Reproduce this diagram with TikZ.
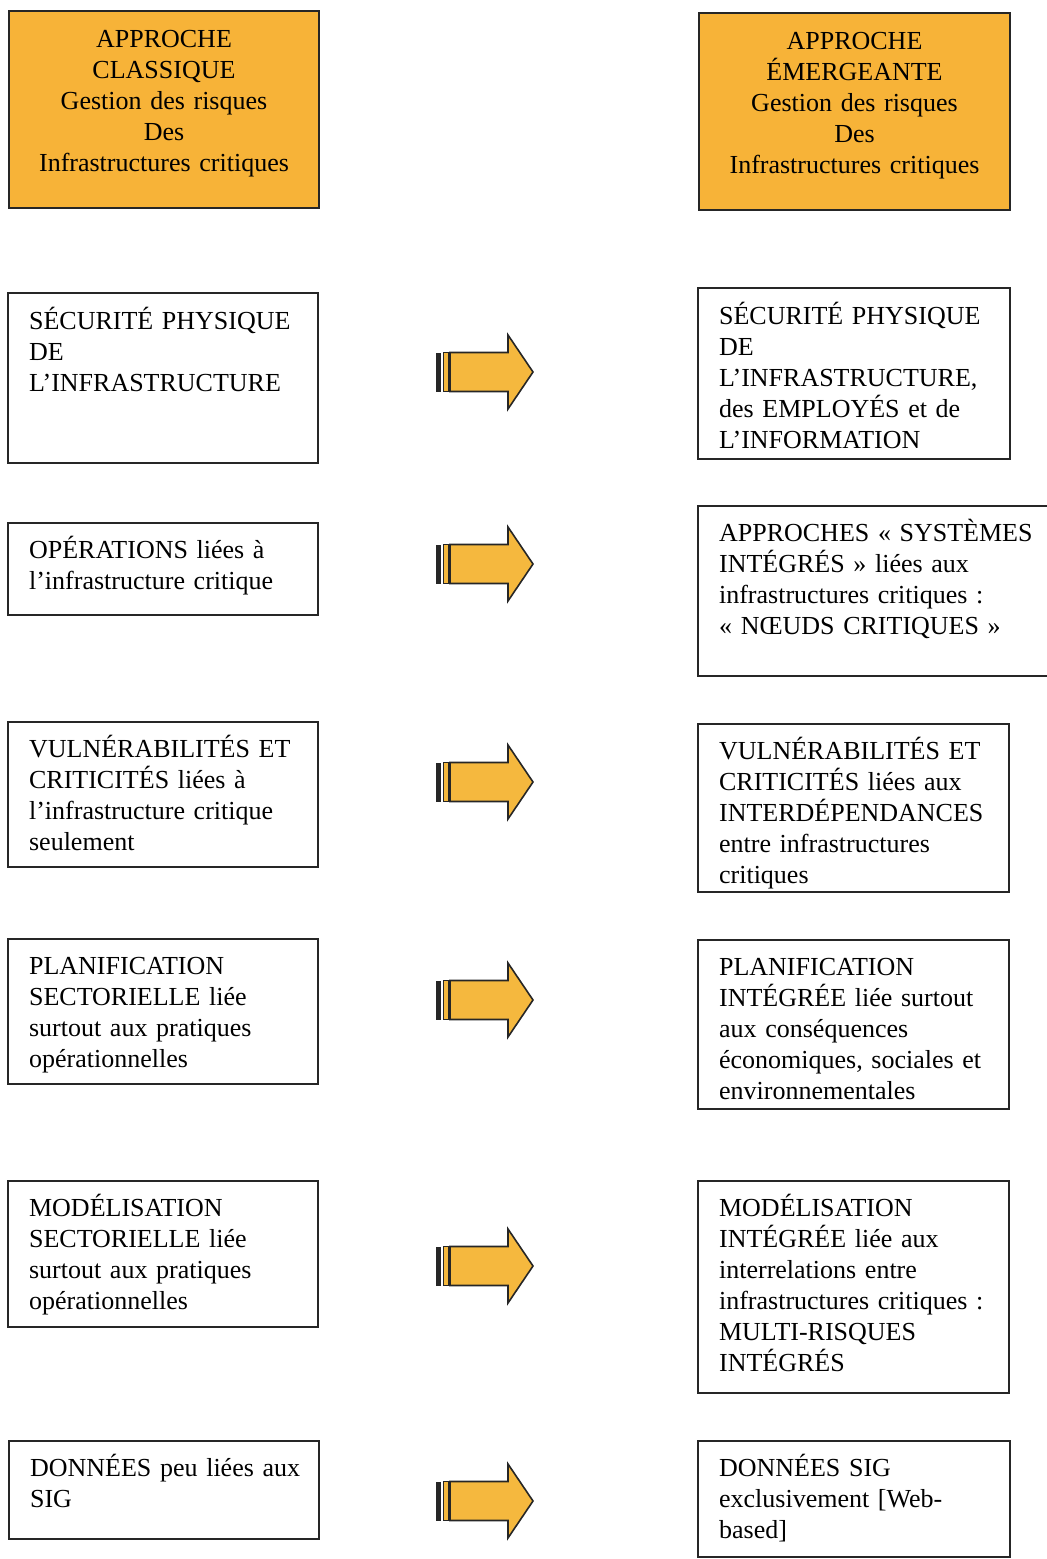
\documentclass[tikz,border=0pt]{standalone}
\usepackage{fontspec}
\setmainfont{Liberation Serif}
\usetikzlibrary{calc}

\definecolor{orangeapproche}{RGB}{247,179,56}
\definecolor{orangefleche}{RGB}{245,184,62}

\begin{document}
\begin{tikzpicture} [x=1pt, y=-1pt,
				entete/.style={
				% The shape:
				rectangle,
				% The border:
      				line width=2.2pt,
     				draw=black!85,
      				% The filling:
				fill=orangeapproche,
				inner sep=0pt
    				},
				cadre/.style={
				% The shape:
				rectangle,
				% The border:
      				line width=2.2pt,
     				draw=black!85,
      				% The filling:
				fill=white,
				inner sep=0pt
    				},
				texte/.style={
				% The placing:
				anchor=base west,
				inner sep=0pt,
				% The text:
				text width=340pt,
				align=left,
				font=\fontsize{26}{31}\selectfont
    				},
				titre/.style={
				% The placing:
				anchor=base,
				inner sep=0pt,
				% The text:
				text width=300pt,
				align=center,
				font=\fontsize{26}{31}\selectfont
    				},
				fleche/.style={
				line width=1.6pt,
				draw=black!85,
				fill=orangefleche,
				line join=miter
    				},
				]
    \useasboundingbox (0,0) rectangle (1047,1559);
    \fill[white] (0,0) rectangle (1047,1559);

    % headers
    \node [entete, minimum width=310pt, minimum height=197pt] (classique) at (164,109.5) {};
    \node [titre] (classique-t) at ($(classique.north)+(0,38)$)
        {APPROCHE\\ CLASSIQUE\\ Gestion des risques\\ Des\\ Infrastructures critiques};
    \node [entete, minimum width=311pt, minimum height=197pt] (emergeante) at (854.5,111.5) {};
    \node [titre] (emergeante-t) at ($(emergeante.north)+(0,38)$)
        {APPROCHE\\ ÉMERGEANTE\\ Gestion des risques\\ Des\\ Infrastructures critiques};

    % left column
    \node [cadre, minimum width=310pt, minimum height=170pt] (g1) at (163,378) {};
    \node [texte] (g1-t) at ($(g1.north west)+(22,38)$)
        {SÉCURITÉ PHYSIQUE\\ DE\\ L’INFRASTRUCTURE};
    \node [cadre, minimum width=310pt, minimum height=92pt] (g2) at (163,569) {};
    \node [texte] (g2-t) at ($(g2.north west)+(22,37)$)
        {OPÉRATIONS liées à\\ l’infrastructure critique};
    \node [cadre, minimum width=310pt, minimum height=145pt] (g3) at (163,794.5) {};
    \node [texte] (g3-t) at ($(g3.north west)+(22,37)$)
        {VULNÉRABILITÉS ET\\ CRITICITÉS liées à\\ l’infrastructure critique\\ seulement};
    \node [cadre, minimum width=310pt, minimum height=145pt] (g4) at (163,1011.5) {};
    \node [texte] (g4-t) at ($(g4.north west)+(22,37)$)
        {PLANIFICATION\\ SECTORIELLE liée\\ surtout aux pratiques\\ opérationnelles};
    \node [cadre, minimum width=310pt, minimum height=146pt] (g5) at (163,1254) {};
    \node [texte] (g5-t) at ($(g5.north west)+(22,37)$)
        {MODÉLISATION\\ SECTORIELLE liée\\ surtout aux pratiques\\ opérationnelles};
    \node [cadre, minimum width=310pt, minimum height=98pt] (g6) at (164,1490) {};
    \node [texte] (g6-t) at ($(g6.north west)+(22,37)$)
        {DONNÉES peu liées aux\\ SIG};

    % right column
    \node [cadre, minimum width=312pt, minimum height=171pt] (d1) at (854,373.5) {};
    \node [texte] (d1-t) at ($(d1.north west)+(22,38)$)
        {SÉCURITÉ PHYSIQUE\\ DE\\ L’INFRASTRUCTURE,\\ des EMPLOYÉS et de\\ L’INFORMATION};
    \node [cadre, minimum width=362pt, minimum height=170pt] (d2) at (879,591) {};
    \node [texte] (d2-t) at ($(d2.north west)+(22,37)$)
        {APPROCHES « SYSTÈMES\\ INTÉGRÉS » liées aux\\ infrastructures critiques :\\ « NŒUDS CRITIQUES »};
    \node [cadre, minimum width=311pt, minimum height=168pt] (d3) at (853.5,808) {};
    \node [texte] (d3-t) at ($(d3.north west)+(22,37)$)
        {VULNÉRABILITÉS ET\\ CRITICITÉS liées aux\\ INTERDÉPENDANCES\\ entre infrastructures\\ critiques};
    \node [cadre, minimum width=311pt, minimum height=169pt] (d4) at (853.5,1024.5) {};
    \node [texte] (d4-t) at ($(d4.north west)+(22,37)$)
        {PLANIFICATION\\ INTÉGRÉE liée surtout\\ aux conséquences\\ économiques, sociales et\\ environnementales};
    \node [cadre, minimum width=311pt, minimum height=212pt] (d5) at (853.5,1287) {};
    \node [texte] (d5-t) at ($(d5.north west)+(22,37)$)
        {MODÉLISATION\\ INTÉGRÉE liée aux\\ interrelations entre\\ infrastructures critiques :\\ MULTI-RISQUES\\ INTÉGRÉS};
    \node [cadre, minimum width=312pt, minimum height=116pt] (d6) at (854,1499) {};
    \node [texte] (d6-t) at ($(d6.north west)+(22,37)$)
        {DONNÉES SIG\\ exclusivement [Web-\\ based]};

    % striped arrows
    \foreach \c in {372,564,782,1000,1266,1501} {
        \fill [black!85] (436,{\c-19.5}) rectangle (441,{\c+19.5});
        \draw [fleche] (443.5,{\c-19.5}) rectangle (448.5,{\c+19.5});
        \draw [fleche] (450,{\c-19.5}) -- (508,{\c-19.5}) -- (508,{\c-37}) -- (533,\c)
            -- (508,{\c+37}) -- (508,{\c+19.5}) -- (450,{\c+19.5}) -- cycle;
    }
\end{tikzpicture}
\end{document}
